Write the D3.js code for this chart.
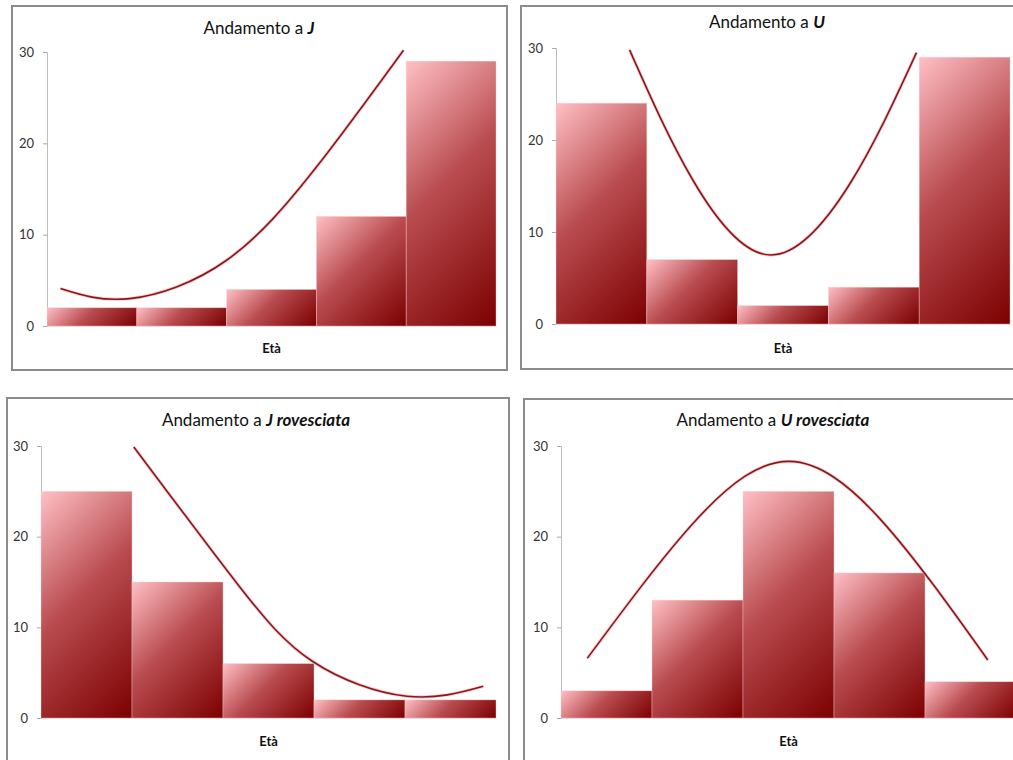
<!DOCTYPE html>
<html>
<head>
<meta charset="utf-8">
<script src="https://cdn.jsdelivr.net/npm/d3@7"></script>
<style>
    body { margin: 0; background: #fff; }
    svg { display: block; font-family: Lato, "Open Sans", sans-serif; }
</style>
</head>
<body>
<svg id="chart" width="1013" height="760"></svg>
<script>
// classi di età (nessuna etichetta visibile sull'asse x)
var categories = ['1', '2', '3', '4', '5']
var yTicks = [0, 10, 20, 30]

// frequenze per classe
var valuesJ = [2, 2, 4, 12, 29]
var valuesU = [24, 7, 2, 4, 29]
var valuesJRev = [25, 15, 6, 2, 2]
var valuesURev = [3, 13, 25, 16, 4]

// linee di tendenza: [posizione in classi (0-5), valore]
var trendJ = [[0.15, 4.1], [0.92, 3.0], [2.0, 7.2], [3.0, 17.4], [3.97, 30.2]]
var trendU = [[0.81, 29.8], [1.51, 15.6], [2.36, 7.5], [3.24, 15.3], [3.97, 29.5]]
var trendJRev = [[1.02, 29.9], [2.15, 14.9], [2.99, 6.2], [4.02, 2.4], [4.86, 3.5]]
var trendURev = [[0.29, 6.6], [1.5, 22.0], [2.51, 28.3], [3.52, 21.8], [4.69, 6.4]]

var titles = [['Andamento a ', 'J'], ['Andamento a ', 'U'], ['Andamento a ', 'J rovesciata'], ['Andamento a ', 'U rovesciata']]

var panels = [
    { values: valuesJ, trend: trendJ, title: titles[0],
      box: [12, 6, 495, 364], plot: { l: 47, r: 496, t: 52, b: 326 }, tx: 259, ty: 34, ly: 353 },
    { values: valuesU, trend: trendU, title: titles[1],
      box: [521, 6, 496, 363], plot: { l: 556, r: 1010, t: 48, b: 324 }, tx: 767, ty: 28, ly: 353 },
    { values: valuesJRev, trend: trendJRev, title: titles[2],
      box: [7, 398, 502, 372], plot: { l: 41, r: 496, t: 446, b: 718 }, tx: 256, ty: 426, ly: 746 },
    { values: valuesURev, trend: trendURev, title: titles[3],
      box: [524, 399, 496, 372], plot: { l: 561, r: 1016, t: 446, b: 718 }, tx: 773, ty: 426, ly: 746 }
]

var svg = d3.select('#chart')
var defs = svg.append('defs')

panels.forEach(function (p, pi) {
    var g = svg.append('g').attr('class', 'panel')

    g.append('rect')
        .attr('x', p.box[0]).attr('y', p.box[1])
        .attr('width', p.box[2]).attr('height', p.box[3])
        .attr('fill', '#fff')
        .attr('stroke', '#8c8c8c')
        .attr('stroke-width', 2)

    var x = d3.scaleBand()
        .domain(categories)
        .range([p.plot.l, p.plot.r])
        .padding(0)

    var xc = d3.scaleLinear()
        .domain([0, categories.length])
        .range([p.plot.l, p.plot.r])

    var y = d3.scaleLinear()
        .domain([0, 30])
        .range([p.plot.b, p.plot.t])

    // asse y
    var yAxis = g.append('g')
        .attr('transform', `translate(${p.plot.l},0)`)
        .call(d3.axisLeft(y).tickValues(yTicks).tickSize(4).tickPadding(9))
    yAxis.select('.domain').attr('stroke', '#bdbdbd')
    yAxis.selectAll('.tick line').attr('stroke', '#a8a8a8')
    yAxis.selectAll('.tick text')
        .attr('fill', '#333')
        .style('font-size', '13px')
        .style('font-family', 'Lato, sans-serif')

    // linea base
    g.append('line')
        .attr('x1', p.plot.l).attr('x2', p.plot.r)
        .attr('y1', y(0)).attr('y2', y(0))
        .attr('stroke', '#c4c4c4')

    // gradiente a 45° per ogni barra
    var data = p.values.map((v, i) => ({ cat: categories[i], value: v }))
    data.forEach(function (d, i) {
        var x0 = x(d.cat), y0 = y(d.value)
        var w = x.bandwidth(), h = y(0) - y(d.value)
        var grad = defs.append('linearGradient')
            .attr('id', 'grad' + pi + '_' + i)
            .attr('gradientUnits', 'userSpaceOnUse')
            .attr('x1', x0).attr('y1', y0)
            .attr('x2', x0 + (w + h) / 2).attr('y2', y0 + (w + h) / 2)
        grad.append('stop').attr('offset', 0).attr('stop-color', '#ffc0c5')
        grad.append('stop').attr('offset', 0.45).attr('stop-color', '#b94c50')
        grad.append('stop').attr('offset', 1).attr('stop-color', '#7c0000')
    })

    g.selectAll('rect.bar')
        .data(data)
        .enter().append('rect')
        .attr('class', 'bar')
        .attr('x', d => x(d.cat))
        .attr('y', d => y(d.value))
        .attr('width', x.bandwidth())
        .attr('height', d => y(0) - y(d.value))
        .attr('fill', (d, i) => 'url(#grad' + pi + '_' + i + ')')
        .attr('stroke', 'rgba(255,205,208,0.55)')
        .attr('stroke-width', 0.7)

    // linea di tendenza
    var line = d3.line()
        .x(d => xc(d[0]))
        .y(d => y(d[1]))
        .curve(d3.curveNatural)

    g.append('path')
        .datum(p.trend)
        .attr('d', line)
        .attr('fill', 'none')
        .attr('stroke', '#e7b3b5')
        .attr('stroke-width', 3.4)
        .attr('stroke-opacity', 0.6)

    g.append('path')
        .datum(p.trend)
        .attr('d', line)
        .attr('fill', 'none')
        .attr('stroke', '#8e1418')
        .attr('stroke-width', 1.6)

    // titolo
    var title = g.append('text')
        .attr('x', p.tx).attr('y', p.ty)
        .attr('text-anchor', 'middle')
        .style('font-size', '17px')
        .attr('fill', '#111')
    title.append('tspan').text(p.title[0])
    title.append('tspan')
        .style('font-weight', 'bold')
        .style('font-style', 'italic')
        .text(p.title[1])

    // etichetta asse x
    g.append('text')
        .attr('x', (p.plot.l + p.plot.r) / 2).attr('y', p.ly)
        .attr('text-anchor', 'middle')
        .style('font-size', '13px')
        .style('font-weight', 'bold')
        .attr('fill', '#111')
        .text('Età')
})
</script>
</body>
</html>
